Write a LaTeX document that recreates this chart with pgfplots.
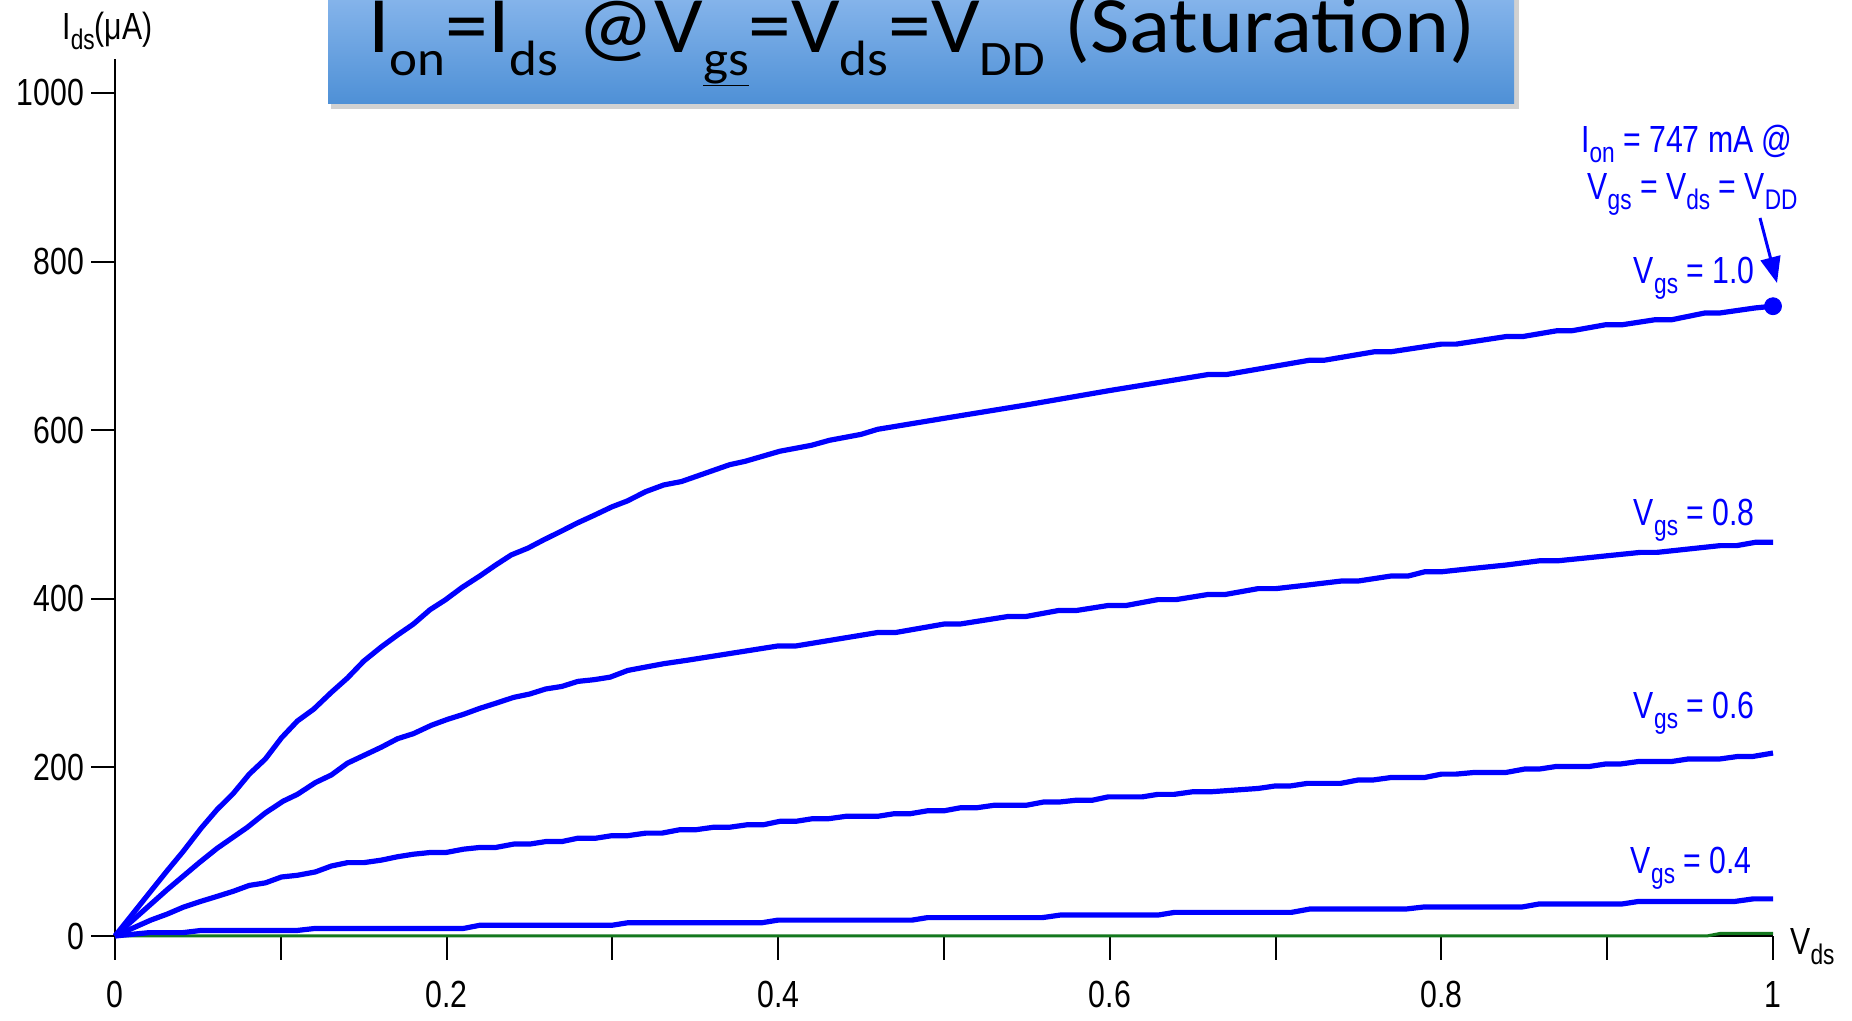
\documentclass[border=0pt]{standalone}
\usepackage{fontspec}
\setmainfont{Liberation Sans}[FakeStretch=0.8]
\newfontfamily\titlefont{Carlito}[FakeStretch=1.07]
\usepackage{graphicx}
\usepackage{pgfplots}
\pgfplotsset{compat=1.18}
\usetikzlibrary{arrows.meta}
\definecolor{tbtop}{RGB}{142,186,238}
\definecolor{tbbot}{RGB}{78,144,214}
\definecolor{gline}{RGB}{20,120,30}
\newcommand\sub[1]{\raisebox{-0.25em}{\scalebox{0.75}{#1}}}
\newcommand\tsub[1]{\raisebox{-0.28em}{\scalebox{0.62}{#1}}}
\newcommand\lbl{\fontsize{18.9}{20}\selectfont}
\begin{document}
\begin{tikzpicture}[x=0.5pt,y=0.5pt]
\useasboundingbox (0,0) rectangle (1852,1021);
% title box
\fill[black,opacity=0.18] (331,912) rectangle (1519,1040);
\shade[top color=tbtop, bottom color=tbbot] (328,917) rectangle (1514,1040);
\node[anchor=base, inner sep=0pt, font=\titlefont\fontsize{40}{41}\selectfont] at (922,968)
  {I\tsub{on}=I\tsub{ds} @V\tsub{\underline{gs}}=V\tsub{ds}=V\tsub{DD} (Saturation)};
\begin{axis}[
  at={(57.5pt,42.5pt)}, anchor=south west,
  scale only axis, width=829pt, height=438.4pt,
  xmin=0, xmax=1, ymin=0, ymax=1040,
  axis x line=bottom, axis y line=left,
  axis line style={-, line width=1pt, black},
  clip=false,
  xtick={0,0.1,0.2,0.3,0.4,0.5,0.6,0.7,0.8,0.9,1},
  xticklabels={0,,0.2,,0.4,,0.6,,0.8,,1},
  ytick={0,200,400,600,800,1000},
  xtick align=outside, ytick align=outside,
  major tick length=12pt,
  tick style={line width=1pt, black},
  ticklabel style={font=\lbl},
  xticklabel style={yshift=-7pt},
  /pgf/number format/assume math mode=true,
  /pgf/number format/1000 sep={},
  every axis plot/.append style={line join=round},
]
\addplot[gline, line width=1.5pt] coordinates {(0,0) (0.96,0) (0.968,3) (1,3)};
\addplot[blue, line width=2.6pt] coordinates {
(0,0) (0.0207,4) (0.041,4) (0.052,6.6) (0.110,6.6) (0.1209,9) (0.2103,9) (0.22,12.7) (0.2997,12.7) (0.3093,15.7)
(0.3901,15.7) (0.3998,18.8) (0.4806,18.8) (0.490,21.8) (0.5593,21.8) (0.570,24.8) (0.629,24.8) (0.639,28)
(0.7095,28) (0.7207,32) (0.7786,32) (0.7899,34.5) (0.849,34.5) (0.859,38) (0.909,38) (0.919,41) (0.977,41) (0.988,44) (1,44)};
\addplot[blue, line width=2.6pt] coordinates {
(0,0) (0.0218,19) (0.0315,26) (0.041,34) (0.0508,40.5) (0.0616,47) (0.0713,53) (0.081,60) (0.0907,63) (0.1004,70)
(0.110,72) (0.1209,76) (0.1305,83) (0.1402,87) (0.150,87) (0.1607,90) (0.1704,94) (0.180,97) (0.190,99) (0.1995,99)
(0.2103,103) (0.220,105) (0.2296,105) (0.2404,109) (0.2501,109) (0.2598,112) (0.2695,112) (0.2792,116) (0.290,116)
(0.2997,119) (0.3093,119) (0.3201,122) (0.3298,122) (0.3405,126) (0.3502,126) (0.361,129) (0.3707,129) (0.3815,132)
(0.3912,132) (0.401,136) (0.4106,136) (0.4203,139) (0.430,139) (0.441,142) (0.4601,142) (0.4698,145) (0.4795,145)
(0.490,148.5) (0.500,148.5) (0.5096,152) (0.5193,152) (0.530,155) (0.5495,155) (0.5603,159) (0.570,159) (0.5796,161)
(0.5894,161) (0.599,165) (0.6195,165) (0.629,168) (0.6389,168) (0.6497,171) (0.6604,171) (0.6894,175) (0.700,178)
(0.709,178) (0.7191,181) (0.7392,181) (0.7497,185) (0.7586,185) (0.7697,188) (0.7899,188) (0.800,192) (0.8088,192)
(0.820,194) (0.839,194) (0.8501,198) (0.859,198) (0.869,201) (0.889,201) (0.899,204) (0.908,204) (0.919,207)
(0.939,207) (0.949,210) (0.968,210) (0.979,213) (0.988,213) (1,217)};
\addplot[blue, line width=2.6pt] coordinates {
(0,0) (0.0315,55) (0.0508,87) (0.0616,104) (0.0799,129) (0.0907,146) (0.1015,160) (0.110,168) (0.1209,182) (0.1305,191)
(0.1402,205) (0.151,215) (0.1607,224) (0.1704,234) (0.180,240) (0.1909,250) (0.2006,257) (0.2103,263) (0.220,270)
(0.2296,276) (0.2404,283) (0.2501,287) (0.2598,293) (0.2695,296) (0.2792,302) (0.2889,304) (0.2986,307) (0.3093,315)
(0.3201,319) (0.331,323) (0.3449,327) (0.3998,344) (0.4106,344) (0.4601,360) (0.4709,360) (0.5,370) (0.5096,370)
(0.5387,379) (0.5495,379) (0.5689,386) (0.5796,386) (0.599,392) (0.6098,392) (0.629,399) (0.640,399) (0.659,405)
(0.6694,405) (0.6894,412) (0.700,412) (0.718,416) (0.7396,421) (0.7497,421) (0.7697,427) (0.780,427) (0.7899,432)
(0.800,432) (0.819,436) (0.839,440) (0.859,445) (0.870,445) (0.8902,449) (0.900,451) (0.920,455) (0.930,455)
(0.949,459) (0.968,463) (0.978,463) (0.9895,467) (1,467)};
\addplot[blue, line width=2.6pt] coordinates {
(0,0) (0.0315,77.5) (0.041,100) (0.052,128) (0.0616,150) (0.0713,169) (0.081,192) (0.0907,210) (0.1004,235) (0.110,255)
(0.1198,269) (0.1305,289) (0.1402,306) (0.150,326) (0.1607,343) (0.1704,357) (0.180,370) (0.190,387) (0.1995,399)
(0.209,413) (0.220,427) (0.2296,440) (0.239,452) (0.249,460) (0.2587,470) (0.268,479) (0.279,490) (0.289,499)
(0.2997,509) (0.309,516) (0.320,527) (0.331,535) (0.3416,539) (0.3707,559) (0.380,563) (0.401,575) (0.420,582)
(0.431,588) (0.450,595) (0.460,601) (0.50,614) (0.55,630) (0.60,647) (0.6594,666) (0.6705,666) (0.7207,683)
(0.7296,683) (0.7597,693) (0.7697,693) (0.7999,702) (0.8088,702) (0.839,711) (0.849,711) (0.870,718) (0.879,718)
(0.899,725) (0.909,725) (0.929,731) (0.939,731) (0.959,739) (0.968,739) (0.9895,745) (1,747)};
\addplot[blue, only marks, mark=*, mark size=4.25pt] coordinates {(1,747)};
\end{axis}
\node[anchor=base west, inner sep=0pt, font=\lbl] at (62,981) {I\sub{ds}(μA)};
\node[anchor=base west, inner sep=0pt, font=\lbl] at (1790,66) {V\sub{ds}};
\begin{scope}[blue, every node/.style={inner sep=0pt, font=\lbl, anchor=base east}]
\node at (1755,737) {V\sub{gs} = 1.0};
\node at (1755,495) {V\sub{gs} = 0.8};
\node at (1755,302) {V\sub{gs} = 0.6};
\node at (1752,147) {V\sub{gs} = 0.4};
\node at (1793,868) {I\sub{on} = 747 mA @};
\node at (1798,821) {V\sub{gs} = V\sub{ds} = V\sub{DD}};
\draw[line width=1.5pt, -{Triangle[length=13pt,width=10pt]}] (1760,803) -- (1777,738);
\end{scope}
\end{tikzpicture}
\end{document}
